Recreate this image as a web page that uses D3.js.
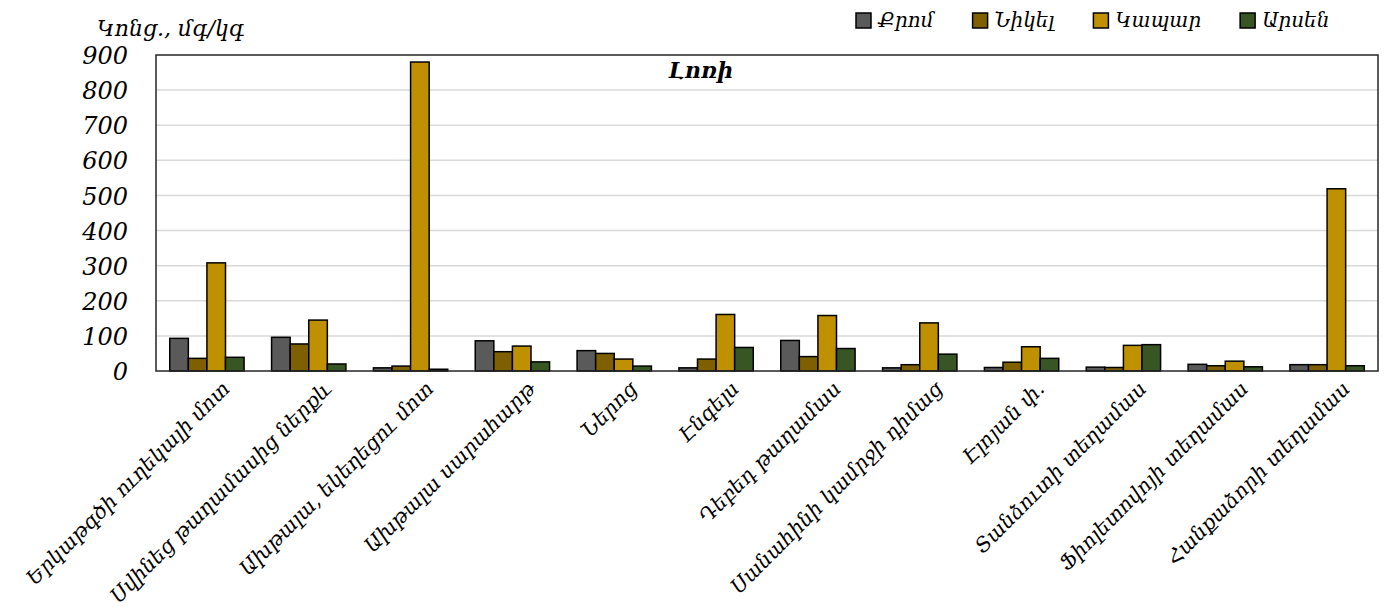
<!DOCTYPE html>
<html><head><meta charset="utf-8">
<script src="https://cdn.jsdelivr.net/npm/d3@7"></script>
<style>
html,body{margin:0;padding:0;background:#fff;}
text{font-family:"DejaVu Serif",serif;font-style:italic;fill:#000;}
</style></head>
<body><svg id="chart" width="1391" height="615"></svg>
<script>
const categories = ["Երկաթգծի ուղեկալի մոտ","Սվինեց թաղամասից ներքև","Ախթալա, եկեղեցու մոտ","Ախթալա սարահարթ","Ներոց","Էնգելս","Դեբեդ թաղամաս","Սանահինի կամրջի դիմաց","Էլոյան փ.","Տանձուտի տեղամաս","Ֆիոլետովոյի տեղամաս","Հանքաձորի տեղամաս"];
const seriesNames = ["Քրոմ","Նիկել","Կապար","Արսեն"];
const chrom  = [93, 96, 9, 86, 58, 9, 87, 9, 10, 11, 19, 18];
const nickel = [36, 77, 14, 55, 50, 34, 41, 18, 25, 10, 15, 18];
const lead   = [308, 145, 880, 71, 34, 161, 158, 137, 69, 73, 28, 519];
const arsen  = [39, 20, 5, 26, 14, 67, 64, 48, 36, 75, 12, 15];
const yTicks = [0,100,200,300,400,500,600,700,800,900];
const colors = ["#5a5a5a","#7f6000","#bf9000","#385623"];
const seriesValues = [chrom, nickel, lead, arsen];

const svg = d3.select("#chart");
const L = 156, R = 1378, T = 55, B = 371;

const x0 = d3.scaleBand().domain(categories).range([L, R]).paddingInner(0.27).paddingOuter(0.135);
const x1 = d3.scaleBand().domain(seriesNames).range([0, x0.bandwidth()]);
const y = d3.scaleLinear().domain([0, 900]).range([B, T]);

// gridlines
svg.append("g").selectAll("line").data(yTicks.filter(t => t > 0 && t < 900)).join("line")
  .attr("x1", L).attr("x2", R).attr("y1", d => y(d)).attr("y2", d => y(d))
  .attr("stroke", "#d9d9d9").attr("stroke-width", 1.5);

// bars
const g = svg.append("g");
categories.forEach((c, i) => {
  seriesNames.forEach((s, j) => {
    const v = seriesValues[j][i];
    g.append("rect")
      .attr("x", x0(c) + x1(s)).attr("width", x1.bandwidth())
      .attr("y", y(v)).attr("height", B - y(v))
      .attr("fill", colors[j]).attr("stroke", "#000").attr("stroke-width", 1.5);
  });
});

// plot border
svg.append("rect").attr("x", L).attr("y", T).attr("width", R - L).attr("height", B - T)
  .attr("fill", "none").attr("stroke", "#262626").attr("stroke-width", 1.5);

// y axis labels
const yAxis = d3.axisLeft(y).tickValues(yTicks).tickSize(0).tickPadding(0).tickFormat(d3.format("d"));
const ya = svg.append("g").attr("transform", `translate(${128},0)`).call(yAxis);
ya.select(".domain").remove();
ya.selectAll("text").style("font-family", "DejaVu Serif").style("font-style", "italic")
  .style("font-size", "24px").attr("fill", "#000").attr("dy", "0.36em");

// x labels
const xa = svg.append("g");
categories.forEach(c => {
  const cx = x0(c) + x0.bandwidth() / 2;
  xa.append("text")
    .attr("transform", `translate(${cx + 19},${385}) rotate(-45)`)
    .attr("text-anchor", "end").attr("dy", "0.35em")
    .style("font-size", "20.5px").text(c);
});

// y title
svg.append("text").attr("x", 97).attr("y", 36).style("font-size", "22px").text("Կոնց., մգ/կգ");

// chart title
svg.append("text").attr("x", 701).attr("y", 78).attr("text-anchor", "middle")
  .style("font-size", "22px").style("font-weight", "bold").text("Լոռի");

// legend
const lg = svg.append("g");
let lx = 856;
seriesNames.forEach((s, j) => {
  lg.append("rect").attr("x", lx).attr("y", 13).attr("width", 15).attr("height", 15)
    .attr("fill", colors[j]).attr("stroke", "#000").attr("stroke-width", 1.5);
  const t = lg.append("text").attr("x", lx + 22).attr("y", 27).style("font-size", "20px").text(s);
  const w = t.node().getComputedTextLength();
  lx += 22 + w + 39;
});
</script>
</body></html>
